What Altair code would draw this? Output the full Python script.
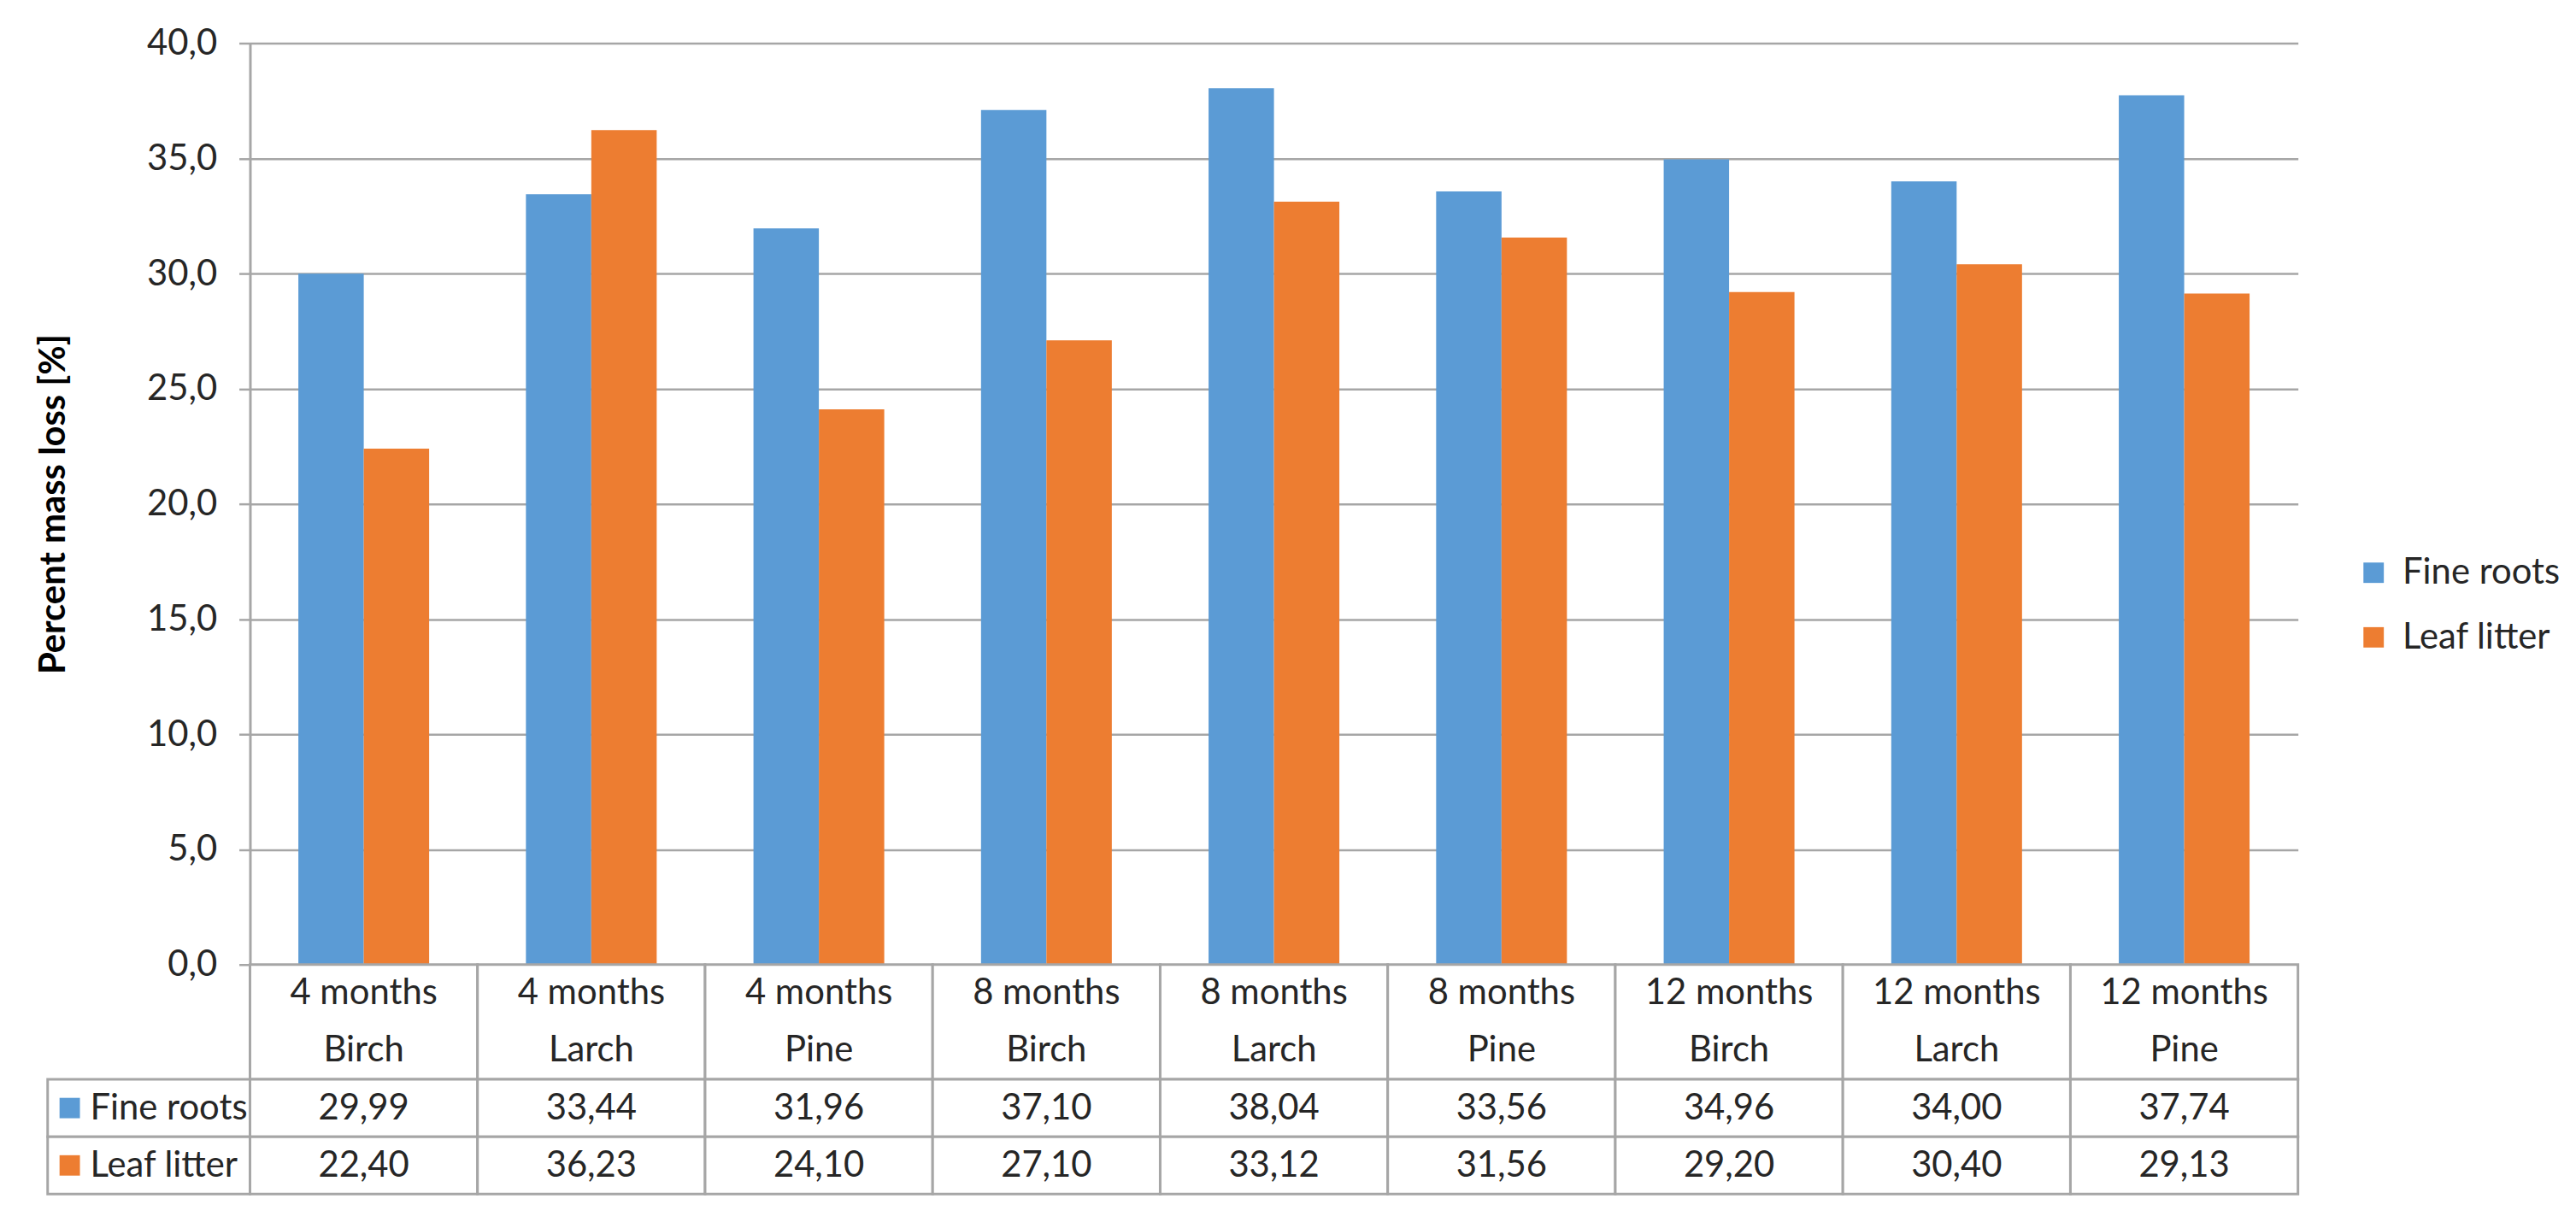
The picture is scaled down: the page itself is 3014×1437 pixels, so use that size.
import altair as alt
import pandas as pd

# ---- data ----
months = ["4 months", "4 months", "4 months", "8 months", "8 months", "8 months",
          "12 months", "12 months", "12 months"]
species = ["Birch", "Larch", "Pine", "Birch", "Larch", "Pine", "Birch", "Larch", "Pine"]
categories = [f"{m} {s}" for m, s in zip(months, species)]
series = ["Fine roots", "Leaf litter"]
fine_roots = [29.99, 33.44, 31.96, 37.10, 38.04, 33.56, 34.96, 34.00, 37.74]
leaf_litter = [22.40, 36.23, 24.10, 27.10, 33.12, 31.56, 29.20, 30.40, 29.13]
y_ticks = [0, 5, 10, 15, 20, 25, 30, 35, 40]
colors = ["#5B9BD5", "#ED7D31"]

FONT = "Lato"
FS = 42
GRID = "#A6A6A6"
TXT = "#262626"

PLOT_W = 2409
PLOT_H = 1084
LABEL_W = 238
TABLE_H = 270

# ---- tables ----
bar_rows = []
for c, f, l in zip(categories, fine_roots, leaf_litter):
    bar_rows.append({"category": c, "series": series[0], "value": f})
    bar_rows.append({"category": c, "series": series[1], "value": l})
bar_df = pd.DataFrame(bar_rows)


def fmt(v):
    return f"{v:.2f}".replace(".", ",")


# table structure: header row spans two units, value rows one unit each
cell_rows = []
text_rows = []
for c, m, s, f, l in zip(categories, months, species, fine_roots, leaf_litter):
    cell_rows += [{"category": c, "r0": 0, "r1": 2},
                  {"category": c, "r0": 2, "r1": 3},
                  {"category": c, "r0": 3, "r1": 4}]
    text_rows += [{"category": c, "row": 0.5, "text": m},
                  {"category": c, "row": 1.5, "text": s},
                  {"category": c, "row": 2.5, "text": fmt(f)},
                  {"category": c, "row": 3.5, "text": fmt(l)}]
cell_df = pd.DataFrame(cell_rows)
text_df = pd.DataFrame(text_rows)

label_df = pd.DataFrame({"col": ["label", "label"], "series": series,
                         "r0": [2, 3], "r1": [3, 4], "mid": [2.5, 3.5]})

row_scale = alt.Scale(domain=[0, 4], reverse=True, nice=False, zero=False)
cat_scale = alt.Scale(domain=categories, paddingInner=0, paddingOuter=0)

# ---- bar chart ----
bars = alt.Chart(bar_df).mark_bar().encode(
    x=alt.X("category:N", sort=categories, scale=cat_scale, axis=None),
    xOffset=alt.XOffset("series:N", sort=series,
                        scale=alt.Scale(domain=series, paddingInner=0, paddingOuter=0.74)),
    y=alt.Y("value:Q",
            scale=alt.Scale(domain=[0, 40], nice=False, zero=True),
            axis=alt.Axis(values=y_ticks, title="Percent mass loss [%]",
                          labelExpr="replace(format(datum.value, '.1f'), '.', ',')",
                          labelFontSize=FS, labelColor=TXT, labelPadding=26,
                          tickSize=13, tickColor=GRID, tickWidth=2.5,
                          domainColor=GRID, domainWidth=3,
                          gridColor=GRID, gridWidth=2.5,
                          titleFontSize=FS, titleFontWeight="bold", titleColor="#000000",
                          titlePadding=88)),
    color=alt.Color("series:N", sort=series,
                    scale=alt.Scale(domain=series, range=colors),
                    legend=alt.Legend(title=None, orient="none", legendX=2715, legendY=602,
                                      symbolType="square", symbolSize=576,
                                      symbolStrokeWidth=0, labelFontSize=FS,
                                      labelLimit=500,
                                      labelColor=TXT, labelOffset=13, rowPadding=34)),
).properties(width=PLOT_W, height=PLOT_H)

spacer = alt.Chart(pd.DataFrame({"s": [""]})).mark_text().encode(
    text="s:N"
).properties(width=LABEL_W, height=PLOT_H)

# ---- data table ----
table_cells = alt.Chart(cell_df).mark_rect(fill="white", stroke=GRID, strokeWidth=3).encode(
    x=alt.X("category:N", sort=categories, scale=cat_scale, axis=None),
    y=alt.Y("r0:Q", scale=row_scale, axis=None),
    y2="r1:Q",
)
table_text = alt.Chart(text_df).mark_text(fontSize=FS, color=TXT, baseline="middle").encode(
    x=alt.X("category:N", sort=categories, scale=cat_scale, axis=None),
    y=alt.Y("row:Q", scale=row_scale, axis=None),
    text="text:N",
)
table = alt.layer(table_cells, table_text).properties(width=PLOT_W, height=TABLE_H)

label_x = alt.X("col:N", scale=alt.Scale(paddingInner=0, paddingOuter=0), axis=None)
label_x0 = alt.X("col:N", scale=alt.Scale(paddingInner=0, paddingOuter=0), axis=None,
                 bandPosition=0)
label_cells = alt.Chart(label_df).mark_rect(fill="white", stroke=GRID, strokeWidth=3).encode(
    x=label_x,
    y=alt.Y("r0:Q", scale=row_scale, axis=None),
    y2="r1:Q",
)
label_swatch = alt.Chart(label_df).mark_square(size=576, opacity=1, xOffset=26).encode(
    x=label_x0,
    y=alt.Y("mid:Q", scale=row_scale, axis=None),
    fill=alt.Fill("series:N", sort=series, scale=alt.Scale(domain=series, range=colors),
                  legend=None),
)
label_text = alt.Chart(label_df).mark_text(align="left", dx=50, fontSize=FS, color=TXT,
                                           baseline="middle").encode(
    x=label_x0,
    y=alt.Y("mid:Q", scale=row_scale, axis=None),
    text="series:N",
)
labels = alt.layer(label_cells, label_swatch, label_text).properties(width=LABEL_W,
                                                                     height=TABLE_H)

chart = alt.concat(spacer, bars, labels, table, columns=2, spacing=0, bounds="flush").properties(
    padding={"left": 33, "top": 18, "right": 10, "bottom": 10}
).configure(font=FONT).configure_view(strokeWidth=0)

chart.save("out.html", embed_options={"renderer": "svg", "actions": False})
